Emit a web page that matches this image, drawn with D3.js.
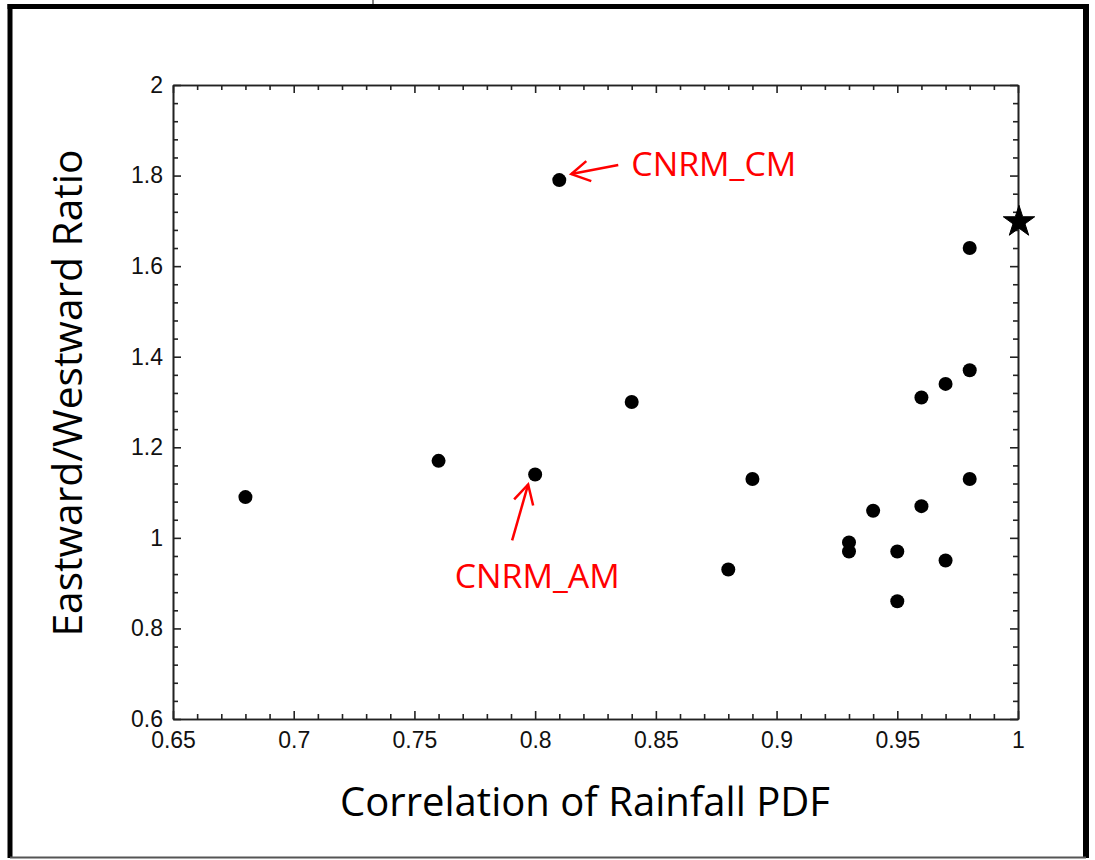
<!DOCTYPE html>
<html>
<head>
<meta charset="utf-8">
<script src="https://cdn.jsdelivr.net/npm/d3@7"></script>
<style>
  html, body { margin: 0; padding: 0; background: #fff; }
  svg { display: block; }
</style>
</head>
<body>
<svg id="chart" width="1095" height="860"></svg>
<script>
// ---- data ----
const correlation = [0.68, 0.76, 0.80, 0.81, 0.84, 0.88, 0.89, 0.93, 0.93, 0.94, 0.95, 0.95, 0.96, 0.96, 0.97, 0.97, 0.98, 0.98, 0.98];
const ratio       = [1.09, 1.17, 1.14, 1.79, 1.30, 0.93, 1.13, 0.99, 0.97, 1.06, 0.97, 0.86, 1.31, 1.07, 1.34, 0.95, 1.64, 1.37, 1.13];
const obsCorrelation = [1.0];
const obsRatio = [1.70];
const xTickValues = [0.65, 0.7, 0.75, 0.8, 0.85, 0.9, 0.95, 1];
const xTickLabels = ["0.65", "0.7", "0.75", "0.8", "0.85", "0.9", "0.95", "1"];
const yTickValues = [0.6, 0.8, 1, 1.2, 1.4, 1.6, 1.8, 2];
const yTickLabels = ["0.6", "0.8", "1", "1.2", "1.4", "1.6", "1.8", "2"];
const annotationNames = ["CNRM_CM", "CNRM_AM"];
const annotationX = [0.81, 0.80];
const annotationY = [1.79, 1.14];
const xLabel = "Correlation of Rainfall PDF";
const yLabel = "Eastward/Westward Ratio";

// ---- layout ----
const svg = d3.select("#chart");
const L = 173, R = 1018, T = 85, B = 719;
const x = d3.scaleLinear().domain([0.65, 1]).range([L, R]);
const y = d3.scaleLinear().domain([0.6, 2]).range([B, T]);

// outer frame
const frame = svg.append("g");
frame.append("line").attr("x1", 7.5).attr("x2", 1089).attr("y1", 6.5).attr("y2", 6.5).attr("stroke", "#000").attr("stroke-width", 5);
frame.append("line").attr("x1", 10).attr("x2", 10).attr("y1", 4).attr("y2", 858).attr("stroke", "#000").attr("stroke-width", 5);
frame.append("line").attr("x1", 1086).attr("x2", 1086).attr("y1", 4).attr("y2", 858).attr("stroke", "#000").attr("stroke-width", 6);
frame.append("line").attr("x1", 10).attr("x2", 1086).attr("y1", 857.5).attr("y2", 857.5).attr("stroke", "#555").attr("stroke-width", 2);
frame.append("line").attr("x1", 373).attr("x2", 373).attr("y1", 0).attr("y2", 4).attr("stroke", "#333").attr("stroke-width", 1.2);

// minor tick positions
const xMinor = d3.range(0, 36).map(i => +(0.65 + i * 0.01).toFixed(2)).filter(v => !xTickValues.some(t => Math.abs(t - v) < 1e-9));
const yMinor = d3.range(0, 36).map(i => +(0.6 + i * 0.04).toFixed(2)).filter(v => !yTickValues.some(t => Math.abs(t - v) < 1e-9));

const tickFont = "'Liberation Sans', Arial, sans-serif";
function styleAxis(g) {
  g.select(".domain").attr("stroke", "#222").attr("stroke-width", 1.6);
  g.selectAll(".tick line").attr("stroke", "#222").attr("stroke-width", 1.6);
  g.selectAll(".tick text").attr("fill", "#111").style("font-family", tickFont).style("font-size", "23px");
}

// bottom
svg.append("g").attr("transform", `translate(0,${B})`)
  .call(d3.axisBottom(x).tickValues(xTickValues).tickFormat((d, i) => xTickLabels[i]).tickSizeInner(-8).tickSizeOuter(0).tickPadding(13))
  .call(styleAxis);
svg.append("g").attr("transform", `translate(0,${B})`)
  .call(d3.axisBottom(x).tickValues(xMinor).tickFormat("").tickSizeInner(-5).tickSizeOuter(0))
  .call(styleAxis);
// top
svg.append("g").attr("transform", `translate(0,${T})`)
  .call(d3.axisTop(x).tickValues(xTickValues).tickFormat("").tickSizeInner(-8).tickSizeOuter(0))
  .call(styleAxis);
svg.append("g").attr("transform", `translate(0,${T})`)
  .call(d3.axisTop(x).tickValues(xMinor).tickFormat("").tickSizeInner(-5).tickSizeOuter(0))
  .call(styleAxis);
// left
svg.append("g").attr("transform", `translate(${L},0)`)
  .call(d3.axisLeft(y).tickValues(yTickValues).tickFormat((d, i) => yTickLabels[i]).tickSizeInner(-8).tickSizeOuter(0).tickPadding(10))
  .call(styleAxis);
svg.append("g").attr("transform", `translate(${L},0)`)
  .call(d3.axisLeft(y).tickValues(yMinor).tickFormat("").tickSizeInner(-5).tickSizeOuter(0))
  .call(styleAxis);
// right
svg.append("g").attr("transform", `translate(${R},0)`)
  .call(d3.axisRight(y).tickValues(yTickValues).tickFormat("").tickSizeInner(-8).tickSizeOuter(0))
  .call(styleAxis);
svg.append("g").attr("transform", `translate(${R},0)`)
  .call(d3.axisRight(y).tickValues(yMinor).tickFormat("").tickSizeInner(-5).tickSizeOuter(0))
  .call(styleAxis);

// axis titles
const titleFont = "'Open Sans', 'Noto Sans', sans-serif";
svg.append("text").attr("x", 585).attr("y", 816).attr("text-anchor", "middle")
  .attr("textLength", 490).attr("lengthAdjust", "spacingAndGlyphs")
  .style("font-family", titleFont).style("font-size", "41px").attr("fill", "#000").text(xLabel);
svg.append("text").attr("transform", "translate(82,393) rotate(-90)").attr("text-anchor", "middle")
  .attr("textLength", 487).attr("lengthAdjust", "spacingAndGlyphs")
  .style("font-family", titleFont).style("font-size", "41px").attr("fill", "#000").text(yLabel);

// points
const pts = correlation.map((c, i) => ({ c, r: ratio[i] }));
svg.append("g").selectAll("circle").data(pts).join("circle")
  .attr("cx", d => x(d.c)).attr("cy", d => y(d.r)).attr("r", 7).attr("fill", "#000");

// observed star
svg.append("g").selectAll("path").data(obsCorrelation.map((c, i) => ({ c, r: obsRatio[i] }))).join("path")
  .attr("transform", d => `translate(${x(d.c) + 1},${y(d.r) + 1})`)
  .attr("d", d3.symbol().type(d3.symbolStar).size(16.5 * 16.5 / 0.8908130915292852))
  .attr("fill", "#000").attr("stroke", "#000").attr("stroke-width", 1);

// annotations
const red = "#ff0000";
const ann = svg.append("g");
// CNRM_CM (label to the right of point, arrow pointing left)
{
  const px = x(annotationX[0]), py = y(annotationY[0]);
  const tip = [px + 12, py - 6];
  const tail = [px + 59, py - 15];
  ann.append("line").attr("x1", tail[0]).attr("y1", tail[1]).attr("x2", tip[0]).attr("y2", tip[1]).attr("stroke", red).attr("stroke-width", 2.5);
  ann.append("polyline").attr("points", `${tip[0] + 15},${tip[1] - 13} ${tip[0]},${tip[1]} ${tip[0] + 20},${tip[1] + 7}`)
    .attr("fill", "none").attr("stroke", red).attr("stroke-width", 2.5);
  ann.append("text").attr("x", px + 72).attr("y", py - 4).attr("textLength", 165).attr("lengthAdjust", "spacingAndGlyphs")
    .style("font-family", titleFont).style("font-size", "32px").attr("fill", red).text(annotationNames[0]);
}
// CNRM_AM (label below the point, arrow pointing up)
{
  const px = x(annotationX[1]), py = y(annotationY[1]);
  const tip = [px - 7, py + 10];
  const tail = [px - 23, py + 66];
  ann.append("line").attr("x1", tail[0]).attr("y1", tail[1]).attr("x2", tip[0]).attr("y2", tip[1]).attr("stroke", red).attr("stroke-width", 2.5);
  ann.append("polyline").attr("points", `${tip[0] - 14},${tip[1] + 15} ${tip[0]},${tip[1]} ${tip[0] + 5},${tip[1] + 21}`)
    .attr("fill", "none").attr("stroke", red).attr("stroke-width", 2.5);
  ann.append("text").attr("x", px + 2).attr("y", py + 114).attr("text-anchor", "middle")
    .attr("textLength", 165).attr("lengthAdjust", "spacingAndGlyphs")
    .style("font-family", titleFont).style("font-size", "32px").attr("fill", red).text(annotationNames[1]);
}
</script>
</body>
</html>
